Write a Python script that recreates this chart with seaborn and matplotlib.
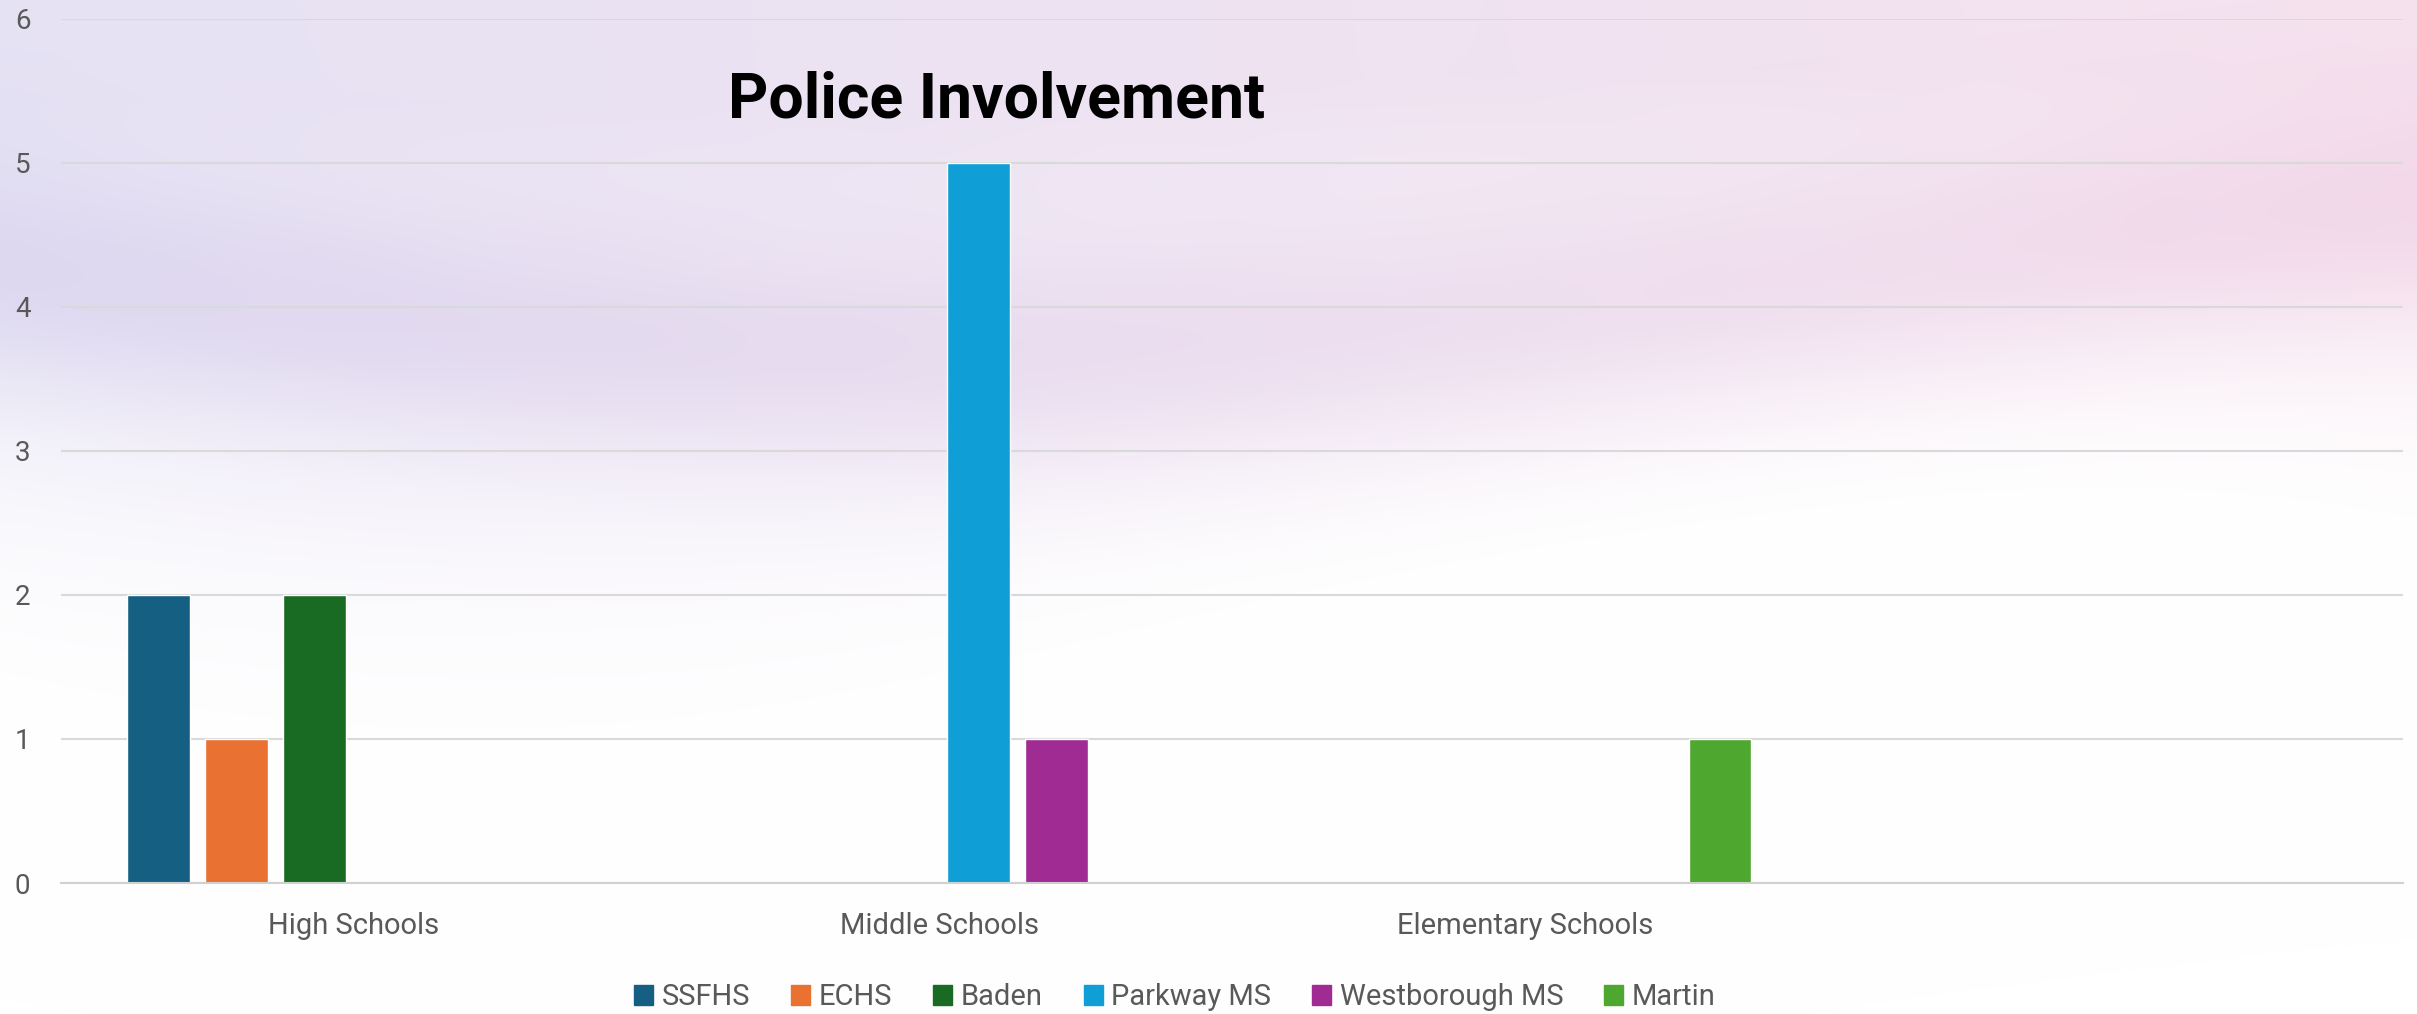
import numpy as np
import pandas as pd
import matplotlib
matplotlib.use("Agg")
import matplotlib.pyplot as plt
import seaborn as sns

# data
categories = ["High Schools", "Middle Schools", "Elementary Schools"]
schools = ["SSFHS", "ECHS", "Baden", "Parkway MS", "Westborough MS", "Martin"]
school_type = ["High Schools", "High Schools", "High Schools",
               "Middle Schools", "Middle Schools", "Elementary Schools"]
incidents = [2, 1, 2, 5, 1, 1]
colors = ["#156082", "#E97132", "#196B24", "#0F9ED5", "#A02B93", "#4EA72E"]

df = pd.DataFrame({"type": school_type, "school": schools, "count": incidents})

sns.set_theme(style="white")
plt.rcParams["font.family"] = ["Roboto", "DejaVu Sans"]

fig = plt.figure(figsize=(24.17, 10.14), dpi=100)

# soft lavender / pink backdrop
bg_ax = fig.add_axes([0, 0, 1, 1], zorder=-5)
h, w = 300, 720
yy, xx = np.mgrid[0:1:h*1j, 0:1:w*1j]
lav = np.array([0.86, 0.84, 0.94])
pink = np.array([0.95, 0.84, 0.91])
tint = lav[None, None, :] * (1 - xx[..., None]) + pink[None, None, :] * xx[..., None]
wave = 0.55 + 0.12 * np.sin(xx * 5.0 + 0.6)
strength = np.clip(1.15 - yy / wave, 0, 1) ** 1.3
band = np.exp(-((yy - (0.28 + 0.08 * np.sin(xx * 4.0))) / 0.12) ** 2) * 0.5
strength = np.clip(strength * 0.7 + band, 0, 1)
img = 1 - (1 - tint) * strength[..., None]
bg_ax.imshow(img, aspect="auto", extent=[0, 1, 0, 1], interpolation="bilinear")
bg_ax.axis("off")

ax = fig.add_axes([61 / 2417, 1 - 883 / 1014, (2403 - 61) / 2417, (883 - 18.5) / 1014])
ax.patch.set_alpha(0)

sns.barplot(data=df, x="type", y="count", hue="school", order=categories,
            hue_order=schools, palette=colors, width=0.8, gap=0.2,
            saturation=1, ax=ax, legend=True)

ax.set_xlim(-0.5, 3.5)
ax.set_ylim(0, 6)
ax.set_yticks(range(0, 7))
ax.yaxis.grid(True, color="#d9d9d9", linewidth=1.5)
ax.set_axisbelow(True)
for s in ["top", "right", "left"]:
    ax.spines[s].set_visible(False)
ax.spines["bottom"].set_color("#d0d0d0")
ax.spines["bottom"].set_linewidth(1.5)
ax.tick_params(axis="both", length=0, colors="#595959")
ax.tick_params(axis="x", pad=21, labelsize=21)
ax.tick_params(axis="y", pad=22, labelsize=20)
ax.set_xlabel("")
ax.set_ylabel("")

fig.text(997 / 2417, 1 - 100 / 1014, "Police Involvement", ha="center", va="center",
         fontsize=45, fontweight="bold", color="black")

ax.legend_.remove()
handles = [plt.Rectangle((0, 0), 1, 1, color=c) for c in colors]
fig.legend(handles, schools, loc="center", bbox_to_anchor=(1175 / 2417, 1 - 997 / 1014),
           ncol=6, frameon=False, fontsize=21, handlelength=0.65, handleheight=0.7,
           handletextpad=0.3, columnspacing=1.4, labelcolor="#595959")

fig.savefig("out.png", dpi=100)
